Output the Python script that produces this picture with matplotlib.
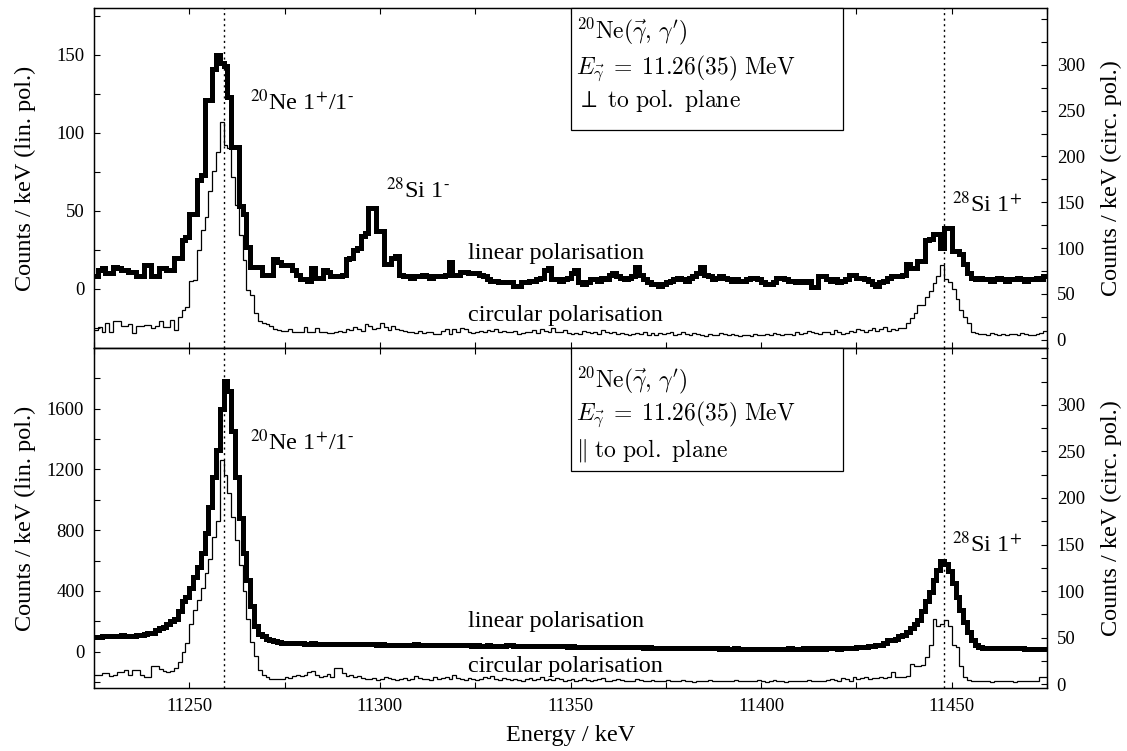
import numpy as np
import matplotlib
matplotlib.use("Agg")
import matplotlib.pyplot as plt
from matplotlib.patches import Rectangle
from matplotlib.ticker import MultipleLocator, FixedLocator

# ---------------- data (counts per 1 keV bin, starting at 11225 keV) ----------------
E_START = 11225.0
BIN_WIDTH = 1.0

# top panel (perpendicular to pol. plane)
top_linear = [
    8, 12, 13, 10, 10, 14, 13, 12, 12, 11,
    11, 8, 8, 15, 15, 8, 8, 13, 13, 12,
    12, 20, 20, 31, 33, 48, 48, 70, 73, 121,
    121, 141, 150, 145, 143, 123, 91, 91, 53, 48,
    27, 14, 14, 14, 9, 9, 9, 19, 17, 15,
    15, 15, 12, 9, 6, 6, 5, 13, 7, 7,
    12, 11, 8, 8, 8, 9, 19, 20, 25, 26,
    34, 36, 52, 52, 37, 37, 16, 16, 20, 21,
    9, 8, 8, 7, 8, 8, 9, 8, 7, 8,
    8, 8, 9, 17, 9, 9, 11, 11, 10, 10,
    10, 9, 8, 6, 5, 5, 4, 4, 4, 4,
    2, 2, 4, 4, 5, 5, 6, 7, 12, 13,
    6, 6, 5, 6, 7, 10, 12, 4, 3, 4,
    6, 6, 5, 7, 6, 9, 10, 8, 7, 6,
    7, 8, 14, 9, 6, 4, 3, 3, 2, 3,
    4, 5, 6, 7, 6, 5, 7, 8, 10, 14,
    9, 8, 6, 7, 8, 7, 6, 5, 6, 5,
    5, 6, 7, 7, 6, 4, 3, 3, 4, 7,
    7, 6, 5, 5, 4, 5, 4, 5, 1, 1,
    8, 8, 6, 5, 6, 4, 5, 6, 9, 9,
    7, 7, 6, 5, 3, 2, 4, 5, 7, 8,
    8, 8, 9, 16, 13, 13, 18, 18, 31, 32,
    35, 35, 26, 39, 39, 24, 24, 22, 16, 10,
    7, 6, 7, 6, 6, 5, 6, 7, 6, 5,
    6, 6, 7, 6, 5, 6, 6, 7, 6, 8,
]
top_circular = [
    11, 14, 9, 18, 9, 20, 20, 15, 15, 17,
    7, 15, 15, 16, 16, 13, 15, 21, 14, 14,
    22, 11, 25, 33, 36, 64, 65, 98, 120, 134,
    162, 184, 205, 238, 213, 209, 178, 147, 114, 87,
    54, 49, 29, 20, 18, 17, 15, 12, 11, 10,
    10, 12, 8, 9, 8, 14, 8, 9, 13, 9,
    8, 7, 7, 8, 10, 9, 12, 11, 14, 12,
    10, 17, 15, 12, 13, 18, 14, 11, 15, 12,
    11, 10, 9, 9, 7, 10, 7, 8, 9, 6,
    6, 10, 12, 6, 12, 8, 13, 12, 8, 7,
    8, 10, 9, 11, 10, 12, 9, 10, 8, 8,
    10, 6, 7, 9, 8, 11, 7, 12, 10, 9,
    13, 9, 8, 11, 7, 6, 7, 6, 10, 8,
    7, 9, 6, 11, 9, 7, 8, 6, 7, 6,
    5, 6, 7, 6, 8, 5, 7, 5, 7, 6,
    7, 8, 5, 6, 8, 6, 5, 7, 6, 5,
    4, 6, 5, 5, 7, 6, 5, 6, 5, 4,
    5, 5, 4, 6, 5, 5, 6, 5, 7, 6,
    5, 6, 6, 5, 8, 6, 7, 10, 9, 7,
    6, 9, 8, 6, 11, 9, 6, 7, 10, 8,
    12, 11, 8, 11, 13, 10, 12, 14, 10, 12,
    11, 13, 13, 18, 24, 29, 38, 38, 47, 53,
    62, 70, 82, 66, 63, 55, 44, 33, 25, 18,
    8, 7, 6, 6, 5, 7, 6, 5, 6, 5,
    6, 6, 5, 7, 6, 5, 5, 6, 7, 10,
]

# bottom panel (parallel to pol. plane)
bottom_linear = [
    95, 97, 100, 102, 100, 105, 103, 108, 105, 100,
    105, 110, 112, 115, 120, 125, 140, 155, 165, 180,
    200, 215, 270, 330, 360, 420, 490, 560, 650, 780,
    950, 1150, 1330, 1600, 1780, 1720, 1450, 1150, 880, 650,
    470, 300, 170, 115, 100, 85, 75, 70, 62, 58,
    55, 56, 55, 54, 55, 53, 52, 54, 53, 51,
    50, 52, 51, 50, 49, 50, 52, 50, 48, 49,
    48, 50, 49, 47, 46, 47, 45, 46, 44, 45,
    46, 44, 43, 45, 48, 46, 44, 43, 42, 43,
    44, 46, 45, 43, 42, 44, 43, 41, 42, 40,
    41, 40, 39, 41, 40, 38, 39, 40, 45, 42,
    38, 37, 38, 36, 37, 38, 36, 35, 36, 35,
    34, 35, 36, 34, 33, 34, 33, 32, 31, 32,
    31, 30, 32, 31, 30, 29, 30, 29, 28, 29,
    28, 27, 28, 27, 26, 27, 26, 25, 26, 25,
    24, 25, 24, 23, 24, 23, 22, 23, 22, 21,
    22, 21, 22, 21, 20, 21, 20, 20, 21, 20,
    19, 20, 19, 20, 19, 18, 19, 20, 19, 20,
    19, 20, 21, 20, 19, 20, 21, 20, 21, 20,
    21, 20, 21, 22, 21, 20, 22, 22, 24, 25,
    30, 32, 33, 35, 40, 42, 45, 55, 75, 78,
    85, 100, 110, 132, 154, 180, 210, 265, 330, 395,
    470, 540, 600, 580, 530, 450, 360, 275, 198, 130,
    78, 45, 28, 26, 25, 24, 24, 23, 23, 22,
    22, 22, 21, 21, 20, 20, 20, 20, 20, 20,
]
bottom_circular = [
    10, 10, 12, 12, 9, 10, 13, 13, 15, 10,
    15, 15, 10, 8, 8, 20, 20, 16, 14, 13,
    14, 18, 24, 35, 44, 65, 80, 90, 103, 119,
    135, 158, 175, 241, 225, 205, 180, 155, 128, 100,
    70, 45, 30, 15, 10, 8, 6, 6, 6, 6,
    8, 7, 9, 10, 9, 10, 13, 14, 10, 8,
    9, 11, 8, 18, 17, 12, 9, 10, 8, 9,
    7, 6, 6, 7, 5, 6, 8, 7, 6, 5,
    6, 7, 5, 6, 9, 7, 6, 6, 5, 8,
    6, 7, 8, 6, 10, 7, 6, 5, 7, 6,
    5, 6, 8, 7, 9, 6, 5, 7, 6, 5,
    6, 5, 4, 6, 7, 5, 6, 8, 5, 6,
    5, 7, 6, 4, 5, 6, 4, 5, 7, 5,
    4, 5, 6, 7, 4, 4, 5, 6, 5, 4,
    3, 4, 6, 5, 4, 3, 5, 4, 3, 4,
    5, 4, 3, 4, 5, 4, 3, 2, 4, 3,
    4, 5, 4, 3, 3, 4, 3, 4, 5, 4,
    3, 4, 3, 4, 5, 3, 2, 3, 5, 4,
    3, 2, 3, 4, 3, 3, 4, 5, 4, 3,
    4, 3, 5, 6, 5, 3, 7, 6, 4, 8,
    6, 7, 8, 6, 7, 7, 8, 7, 8, 13,
    8, 8, 8, 9, 22, 20, 20, 21, 29, 42,
    70, 63, 65, 69, 63, 42, 40, 20, 8, 5,
    3, 3, 4, 3, 3, 2, 3, 3, 4, 3,
    3, 2, 3, 3, 3, 3, 3, 4, 8, 8,
]

peak_energies = [11259.0, 11448.0]
x_ticks = [11250, 11300, 11350, 11400, 11450]
top_left_ticks = [0, 50, 100, 150]
bottom_left_ticks = [0, 400, 800, 1200, 1600]
right_ticks = [0, 50, 100, 150, 200, 250, 300]

# ---------------- style ----------------
plt.rcParams['font.family'] = ['Liberation Serif', 'DejaVu Serif']
plt.rcParams['font.size'] = 13.5
plt.rcParams['axes.linewidth'] = 0.9

W, H = 1127, 751
fig = plt.figure(figsize=(W / 100, H / 100), dpi=100)

def fx(px):
    return px / W

def fy(py):
    return 1 - py / H

L, R = 94, 1047
ax_top = fig.add_axes([fx(L), fy(348), fx(R) - fx(L), fy(8) - fy(348)])
ax_bot = fig.add_axes([fx(L), fy(688), fx(R) - fx(L), fy(348) - fy(688)], sharex=ax_top)
axr_top = ax_top.twinx()
axr_bot = ax_bot.twinx()

n = len(top_linear)
edges = E_START + BIN_WIDTH * np.arange(n + 1)

thick = dict(color='black', lw=3.6, joinstyle='miter', capstyle='butt', baseline=None)
thin = dict(color='black', lw=0.9, baseline=None)

ax_top.stairs(top_linear, edges, **thick)
axr_top.stairs(top_circular, edges, **thin)
ax_bot.stairs(bottom_linear, edges, **thick)
axr_bot.stairs(bottom_circular, edges, **thin)

for ax in (ax_top, ax_bot):
    for e in peak_energies:
        ax.axvline(e, color='black', lw=1.0, ls=(0, (1.5, 2.5)), zorder=0)

tick_kw = dict(direction='in', length=4, width=0.8, which='both', labelsize=13.5, pad=7)

ax_top.xaxis.set_major_locator(FixedLocator(x_ticks))
ax_top.xaxis.set_minor_locator(MultipleLocator(25))
ax_top.tick_params(axis='x', top=True, bottom=True, labelbottom=False, **tick_kw)
ax_bot.tick_params(axis='x', top=True, bottom=True, labelbottom=True, **tick_kw)

ax_top.yaxis.set_major_locator(FixedLocator(top_left_ticks))
ax_top.yaxis.set_minor_locator(MultipleLocator(25))
ax_bot.yaxis.set_major_locator(FixedLocator(bottom_left_ticks))
ax_bot.yaxis.set_minor_locator(MultipleLocator(200))
for a in (axr_top, axr_bot):
    a.yaxis.set_major_locator(FixedLocator(right_ticks))
    a.yaxis.set_minor_locator(MultipleLocator(25))
    a.tick_params(axis='y', right=True, left=False, **tick_kw)
for a in (ax_top, ax_bot):
    a.tick_params(axis='y', left=True, right=False, **tick_kw)

ax_top.set_xlim(11225, 11475)
ax_top.set_ylim(-38, 180)
axr_top.set_ylim(-9, 362)
ax_bot.set_ylim(-240, 2000)
axr_bot.set_ylim(-4, 361)

# axis labels
lab_fs = 17.5
for yc in (178, 518):
    fig.text(fx(25), fy(yc), 'Counts / keV (lin. pol.)', rotation=90, ha='center', va='center', fontsize=lab_fs)
    fig.text(fx(1111), fy(yc), 'Counts / keV (circ. pol.)', rotation=90, ha='center', va='center', fontsize=lab_fs)
fig.text(fx(571), fy(736), 'Energy / keV', ha='center', va='center', fontsize=lab_fs)

# peak / series annotations (Times-like)
ann_fs = 17.5
def ftext(px, py, s):
    fig.text(fx(px), fy(py), s, ha='left', va='baseline', fontsize=ann_fs,
             math_fontfamily='stix')

ne_label = r'$^{20}$Ne 1$^{+}$/1$^{\text{-}}$'
si_minus = r'$^{28}$Si 1$^{\text{-}}$'
si_plus = r'$^{28}$Si 1$^{+}$'

ftext(250, 110, ne_label)
ftext(386, 198, si_minus)
ftext(952, 212, si_plus)
ftext(468, 259, 'linear polarisation')
ftext(468, 321, 'circular polarisation')

ftext(250, 450, ne_label)
ftext(952, 552, si_plus)
ftext(468, 627, 'linear polarisation')
ftext(468, 672, 'circular polarisation')

# info boxes (Computer Modern)
def info_box(top_px, bot_px, baselines, third):
    rect = Rectangle((fx(571), fy(bot_px)), fx(843) - fx(571), fy(top_px) - fy(bot_px),
                     transform=fig.transFigure, fill=True, facecolor='white',
                     edgecolor='black', lw=0.9, zorder=5)
    fig.patches.append(rect)
    lines = [r"$^{20}\mathrm{Ne}(\vec{\gamma},\,\gamma')$",
             r"$E_{\vec{\gamma}}\;=\;11.26(35)\ \mathrm{MeV}$",
             third]
    for s, b in zip(lines, baselines):
        fig.text(fx(576), fy(b), s, ha='left', va='baseline', fontsize=17,
                 math_fontfamily='cm', zorder=6)

info_box(8, 130, [38, 74, 107], r"$\perp\ \mathrm{to\ pol.\ plane}$")
info_box(348, 471, [387, 420, 456], r"$\Vert\ \mathrm{to\ pol.\ plane}$")

fig.savefig('out.png', dpi=100)
